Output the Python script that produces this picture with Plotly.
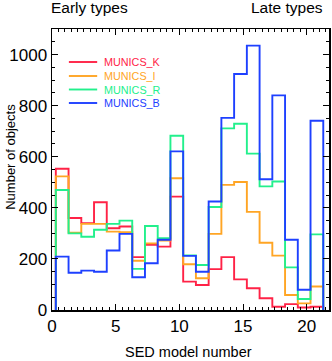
import numpy as np
import plotly.graph_objects as go

# SED model bins (21 bins, unit width)
models = list(range(21))
bin_offset = 0.3  # left edge of first bin on the axis

munics_k = [553, 360, 340, 422, 320, 327, 207, 255, 248, 444, 111, 98, 160, 207, 120, 85, 46, 13, 23, 10, 13]
munics_i = [523, 303, 337, 337, 307, 305, 193, 261, 272, 516, 179, 124, 298, 490, 501, 384, 263, 213, 59, 26, 92]
munics_r = [470, 300, 287, 314, 337, 350, 161, 329, 281, 682, 214, 176, 403, 711, 729, 612, 484, 503, 167, 43, 296]
munics_b = [209, 146, 154, 150, 233, 298, 128, 183, 275, 621, 212, 150, 425, 752, 924, 1035, 512, 840, 275, 79, 741]

series_names = ["MUNICS_K", "MUNICS_I", "MUNICS_R", "MUNICS_B"]
series_vals = [munics_k, munics_i, munics_r, munics_b]
colors = ["#ff2246", "#ffa524", "#22f08c", "#1e40ff"]

x_ticks = [0, 5, 10, 15, 20]
y_ticks = [0, 200, 400, 600, 800, 1000]

FONT = "Liberation Sans, Arial, sans-serif"

edges = [m + bin_offset for m in models] + [models[-1] + 1 + bin_offset]

fig = go.Figure()
for name, vals, col in zip(series_names, series_vals, colors):
    xs = [edges[0]] + edges[:-1] + [edges[-1], edges[-1]]
    ys = [0] + list(vals) + [vals[-1], 0]
    fig.add_trace(go.Scatter(x=xs, y=ys, mode="lines", line=dict(color=col, width=1.9, shape="hv"),
                             name=name, showlegend=False, hoverinfo="skip"))

W, H = 332, 361
L, R, T, B = 52, 1, 29, 51
pw, ph = W - L - R, H - T - B


def px2paper_x(px):
    return (px - L) / pw


def px2paper_y(py):
    return (H - B - py) / ph


shapes = []
annotations = []
leg_rows = [62, 76, 89.5, 103]
for name, col, ry in zip(series_names, colors, leg_rows):
    shapes.append(dict(type="line", xref="paper", yref="paper",
                       x0=px2paper_x(69), x1=px2paper_x(97.5), y0=px2paper_y(ry), y1=px2paper_y(ry),
                       line=dict(color=col, width=1.9)))
    annotations.append(dict(text=name, xref="paper", yref="paper", x=px2paper_x(102), y=px2paper_y(ry),
                            xanchor="left", yanchor="middle", showarrow=False,
                            font=dict(family=FONT, size=10.8, color=col)))

annotations += [
    dict(text="Early types", xref="paper", yref="paper", x=px2paper_x(48.5), y=px2paper_y(7),
         xanchor="left", yanchor="middle", showarrow=False, font=dict(family=FONT, size=15.5, color="black")),
    dict(text="Late types", xref="paper", yref="paper", x=px2paper_x(326.5), y=px2paper_y(7),
         xanchor="right", yanchor="middle", showarrow=False, font=dict(family=FONT, size=15.5, color="black")),
    dict(text="SED model number", xref="paper", yref="paper", x=px2paper_x(189.5), y=px2paper_y(360.5),
         xanchor="center", yanchor="bottom", showarrow=False, borderpad=0,
         font=dict(family=FONT, size=14.5, color="black")),
    dict(text="Number of objects", xref="paper", yref="paper", x=px2paper_x(10), y=px2paper_y(156.5),
         xanchor="center", yanchor="middle", textangle=-90, showarrow=False,
         font=dict(family=FONT, size=13, color="black")),
]

axis_common = dict(showline=True, linecolor="black", linewidth=1.5, mirror="allticks",
                   ticks="inside", tickcolor="black", tickwidth=1, ticklen=6,
                   showgrid=False, zeroline=False,
                   tickfont=dict(family=FONT, size=17, color="black"))

fig.update_layout(
    width=W, height=H,
    margin=dict(l=L, r=R, t=T, b=B, pad=0),
    paper_bgcolor="white", plot_bgcolor="white",
    xaxis=dict(range=[0, 21.75], tickvals=x_ticks, ticktext=[str(v) for v in x_ticks],
               minor=dict(dtick=0.5, tick0=0, ticks="inside", ticklen=3, tickcolor="black", tickwidth=1),
               **axis_common),
    yaxis=dict(range=[0, 1100], tickvals=y_ticks, ticktext=[str(v) for v in y_ticks],
               minor=dict(dtick=50, tick0=0, ticks="inside", ticklen=3, tickcolor="black", tickwidth=1),
               **axis_common),
    shapes=shapes,
    annotations=annotations,
    showlegend=False,
)

fig.write_html("out.html", config={"displayModeBar": False, "staticPlot": True},
               post_script="document.body.style.margin='0px';document.body.style.overflow='hidden';")
